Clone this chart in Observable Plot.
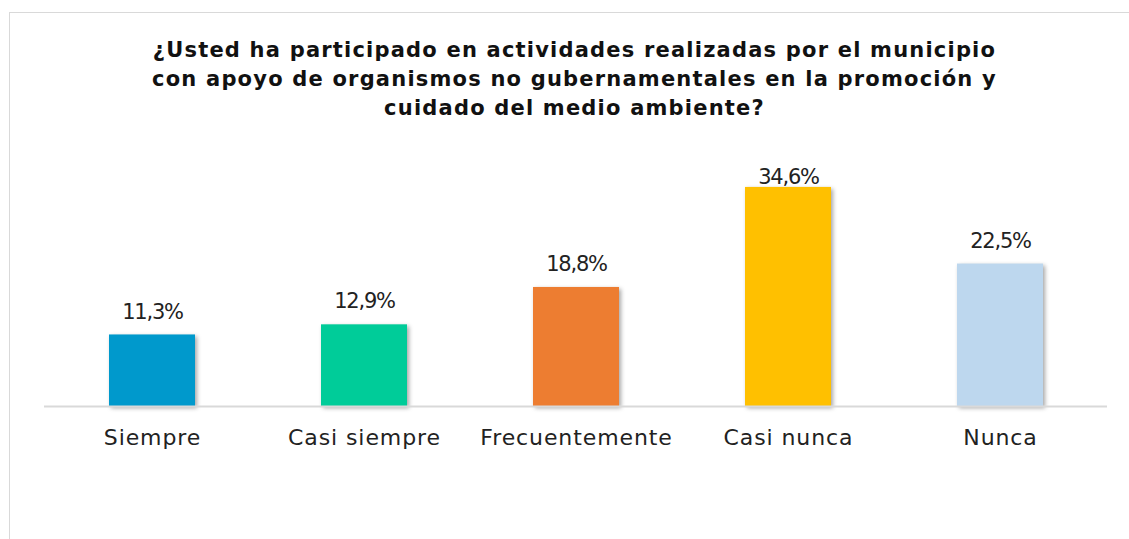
<!DOCTYPE html>
<html>
<head>
<meta charset="utf-8">
<script src="https://cdn.jsdelivr.net/npm/d3@7"></script>
<script src="https://cdn.jsdelivr.net/npm/@observablehq/plot@0.6"></script>
<style>
  html, body { margin: 0; padding: 0; background: #fff; overflow: hidden; }
  #wrap { position: relative; width: 1129px; height: 539px; overflow: hidden; }
  #frame { position: absolute; left: 9px; top: 12px; width: 1140px; height: 600px;
           border: 1.5px solid #d9d9d9; box-sizing: border-box; }
  #title { position: absolute; left: 10px; top: 0; width: 1129px; height: 150px;
           text-align: center; font-family: "DejaVu Sans", sans-serif; font-weight: bold;
           font-size: 21px; line-height: 29px; letter-spacing: 1.2px; color: #111;
           padding-top: 36px; box-sizing: border-box; }
  #chart { position: absolute; left: 0; top: 150px; }
  #chart svg g[aria-label="bar"] rect { filter: drop-shadow(2px 2px 2px rgba(0,0,0,0.35)); }
</style>
</head>
<body>
<div id="wrap">
  <div id="frame"></div>
  <div id="title">¿Usted ha participado en actividades realizadas por el municipio<br>con apoyo de organismos no gubernamentales en la promoción y<br>cuidado del medio ambiente?</div>
  <div id="chart"></div>
</div>
<script>
const categories = ["Siempre", "Casi siempre", "Frecuentemente", "Casi nunca", "Nunca"];
const values = [11.3, 12.9, 18.8, 34.6, 22.5];
const colors = ["#0099CC", "#00CC99", "#ED7D31", "#FFC000", "#BDD7EE"];
const valueLabels = ["11,3%", "12,9%", "18,8%", "34,6%", "22,5%"];

const data = categories.map((c, i) => ({category: c, value: values[i], label: valueLabels[i]}));

const W = 1129, H = 389;
const chart = Plot.plot({
  width: W,
  height: H,
  marginLeft: 44,
  marginRight: 22,
  marginTop: 34.4,
  marginBottom: 133,
  x: {domain: categories, paddingInner: 0.595, paddingOuter: 0.2975, axis: null},
  y: {domain: [0, 35], axis: null},
  color: {domain: categories, range: colors},
  style: {fontFamily: "DejaVu Sans, sans-serif", background: "transparent", overflow: "visible"},
  marks: [
    Plot.barY(data, {x: "category", y: "value", fill: "category"}),
    Plot.ruleY([0], {stroke: "#d9d9d9", strokeWidth: 2}),
    Plot.text(data, {x: "category", y: d => Math.min(d.value + 3.65, 36.2), text: "label",
      fontSize: 21, fill: "#222", lineAnchor: "middle"}),
    Plot.text(data, {x: "category", y: 0, dy: 31, text: "category",
      fontSize: 22, fill: "#222", lineAnchor: "middle"})
  ]
});
const textGroups = chart.querySelectorAll('g[aria-label="text"]');
if (textGroups[0]) textGroups[0].style.letterSpacing = "-1.2px";
if (textGroups[1]) textGroups[1].style.letterSpacing = "0.9px";
document.getElementById("chart").appendChild(chart);
</script>
</body>
</html>
